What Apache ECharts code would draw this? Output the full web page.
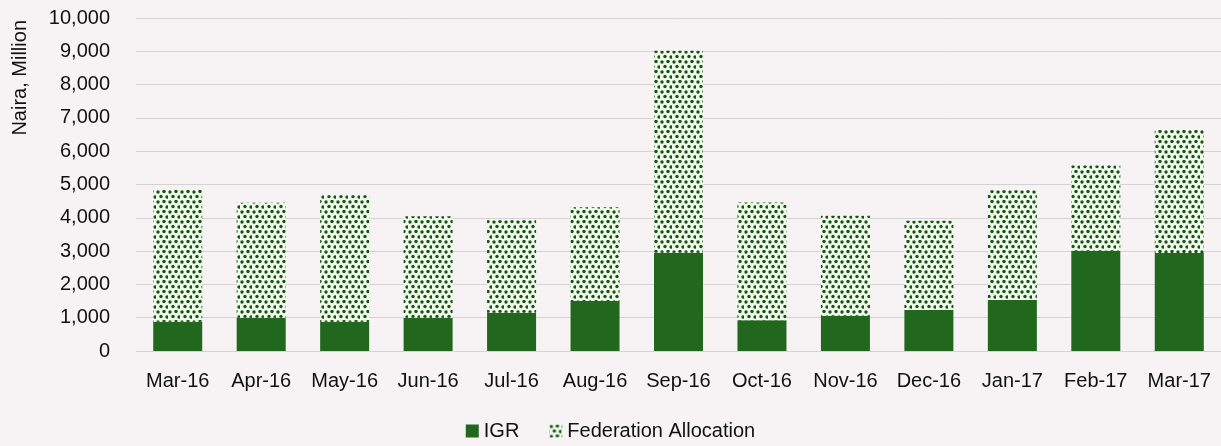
<!DOCTYPE html>
<html>
<head>
<meta charset="utf-8">
<script src="https://cdn.jsdelivr.net/npm/echarts@6/dist/echarts.min.js"></script>
<style>
  html, body { margin: 0; padding: 0; background: #f7f3f5; }
  #chart { width: 1221px; height: 446px; }
</style>
</head>
<body>
<div id="chart"></div>
<script>
// data
var months = ["Mar-16", "Apr-16", "May-16", "Jun-16", "Jul-16", "Aug-16", "Sep-16",
              "Oct-16", "Nov-16", "Dec-16", "Jan-17", "Feb-17", "Mar-17"];
var igr = [880, 1000, 880, 1000, 1150, 1500, 2950, 920, 1060, 1230, 1530, 3010, 2940];
var federation = [3970, 3450, 3800, 3050, 2780, 2820, 6070, 3540, 3000, 2680, 3300, 2560, 3720];
var yTicks = [0, 1000, 2000, 3000, 4000, 5000, 6000, 7000, 8000, 9000, 10000];

// dotted fill like the scanned original (staggered rows of small dots)
function dotPattern() {
  var c = document.createElement("canvas");
  c.width = 12; c.height = 10;
  var ctx = c.getContext("2d");
  ctx.fillStyle = "#eefbe8";
  ctx.fillRect(0, 0, 12, 10);
  ctx.fillStyle = "#1c4f1c";
  [[2, 2], [8, 1.5], [5, 6.5], [11, 7]].forEach(function (p) {
    ctx.beginPath();
    ctx.arc(p[0], p[1], 1.7, 0, Math.PI * 2);
    ctx.fill();
  });
  return c;
}

var font = "Liberation Sans, Arial, sans-serif";
var chart = echarts.init(document.getElementById("chart"));
chart.setOption({
  backgroundColor: "#f7f3f5",
  animation: false,
  grid: { left: 136, right: -6, top: 18, bottom: 95 },
  graphic: [{
    type: "text",
    left: 10, top: 20,
    rotation: Math.PI / 2,
    style: { text: "Naira, Million", font: "20px " + font, fill: "#111" }
  }],
  legend: {
    bottom: 0,
    left: "center",
    icon: "rect",
    itemWidth: 13, itemHeight: 13,
    itemGap: 30,
    textStyle: { fontFamily: font, fontSize: 20, color: "#111" },
    data: ["IGR", "Federation Allocation"]
  },
  xAxis: {
    type: "category",
    data: months,
    axisLine: { show: false },
    axisTick: { show: false },
    axisLabel: { interval: 0, margin: 20, fontFamily: font, fontSize: 20, color: "#111" }
  },
  yAxis: {
    type: "value",
    min: yTicks[0], max: yTicks[yTicks.length - 1], interval: 1000,
    axisLine: { show: false },
    axisTick: { show: false },
    splitLine: { lineStyle: { color: "#d6d1d3", width: 1 } },
    axisLabel: {
      margin: 26, fontFamily: font, fontSize: 20, color: "#111",
      formatter: function (v) { return v.toLocaleString("en-US"); }
    }
  },
  series: [
    {
      name: "IGR", type: "bar", stack: "total",
      barWidth: 49,
      itemStyle: { color: "#21671d" },
      data: igr
    },
    {
      name: "Federation Allocation", type: "bar", stack: "total",
      barWidth: 49,
      itemStyle: { color: { image: dotPattern(), repeat: "repeat" } },
      data: federation
    }
  ]
});
</script>
</body>
</html>
